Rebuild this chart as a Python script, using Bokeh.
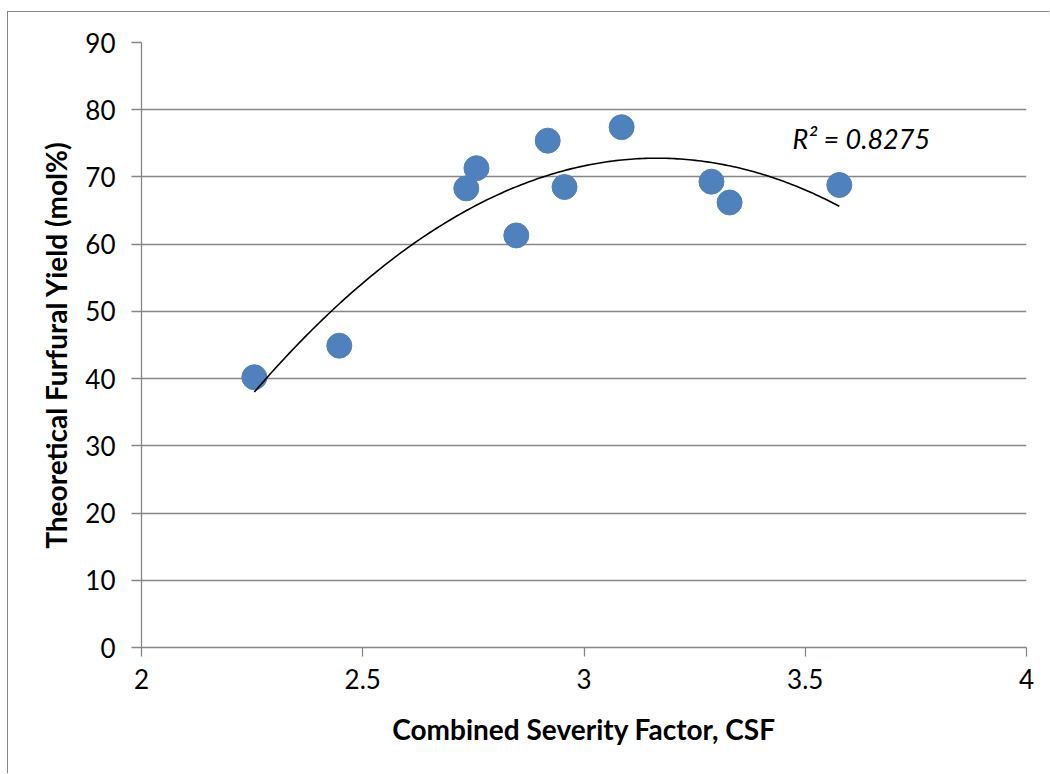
import numpy as np
from bokeh.plotting import figure
from bokeh.models import ColumnDataSource, FixedTicker, Label
from bokeh.embed import file_html
from bokeh.resources import INLINE

# Data
csf = [2.255, 2.447, 2.734, 2.757, 2.847, 2.918, 2.956, 3.085, 3.288, 3.329, 3.577]
furfural_yield = [40.2, 44.9, 68.3, 71.3, 61.3, 75.4, 68.5, 77.4, 69.3, 66.2, 68.8]
x_ticks = [2, 2.5, 3, 3.5, 4]
y_ticks = [0, 10, 20, 30, 40, 50, 60, 70, 80, 90]
r2_text = "R\u00b2 = 0.8275"
r2_pos = (3.471, 73.2)

# Second-order polynomial trendline fitted to the data
coef = np.polyfit(csf, furfural_yield, 2)
xt = np.linspace(min(csf), max(csf), 200)
yt = np.polyval(coef, xt)

FONT = "Lato"
GRID = "#868686"

p = figure(width=1042, height=762, x_range=(2, 4), y_range=(0, 90),
           output_backend="svg", toolbar_location=None,
           min_border_left=133, min_border_right=24, min_border_top=30, min_border_bottom=127,
           margin=(11, 0, 0, 7),
           styles={"border-left": "1px solid #868686", "border-top": "1px solid #868686"})
p.outline_line_color = None
p.background_fill_color = "white"
p.border_fill_color = "white"

p.xgrid.grid_line_color = None
p.ygrid.grid_line_color = GRID
p.ygrid.grid_line_width = 1.3

p.xaxis.ticker = FixedTicker(ticks=x_ticks)
p.yaxis.ticker = FixedTicker(ticks=y_ticks)
p.xaxis.minor_tick_line_color = None
p.yaxis.minor_tick_line_color = None
for ax in (p.xaxis, p.yaxis):
    ax.axis_line_color = GRID
    ax.axis_line_width = 1.3
    ax.major_tick_line_color = GRID
    ax.major_tick_line_width = 1.3
    ax.major_tick_in = 0
    ax.major_label_text_font = FONT
    ax.major_label_text_font_size = "26px"
    ax.major_label_text_color = "black"
    ax.axis_label_text_font = FONT
    ax.axis_label_text_font_size = "28px"
    ax.axis_label_text_font_style = "bold"
    ax.axis_label_text_color = "black"
p.xaxis.major_tick_out = 9
p.yaxis.major_tick_out = 10
p.xaxis.major_label_standoff = 12
p.yaxis.major_label_standoff = 16
p.xaxis.axis_label = "Combined Severity Factor, CSF"
p.yaxis.axis_label = "Theoretical Furfural Yield (mol%)"
p.xaxis.axis_label_standoff = 20
p.yaxis.axis_label_standoff = 9

src = ColumnDataSource(data=dict(x=csf, y=furfural_yield))
p.scatter("x", "y", source=src, size=25, fill_color="#4F81BD", line_color="#4F81BD")
p.line(xt, yt, line_color="black", line_width=1.6)

p.add_layout(Label(x=r2_pos[0], y=r2_pos[1], text=r2_text, text_font=FONT,
                   text_font_size="27px", text_font_style="italic", text_color="black"))

open("out.html", "w").write(file_html(p, INLINE))
